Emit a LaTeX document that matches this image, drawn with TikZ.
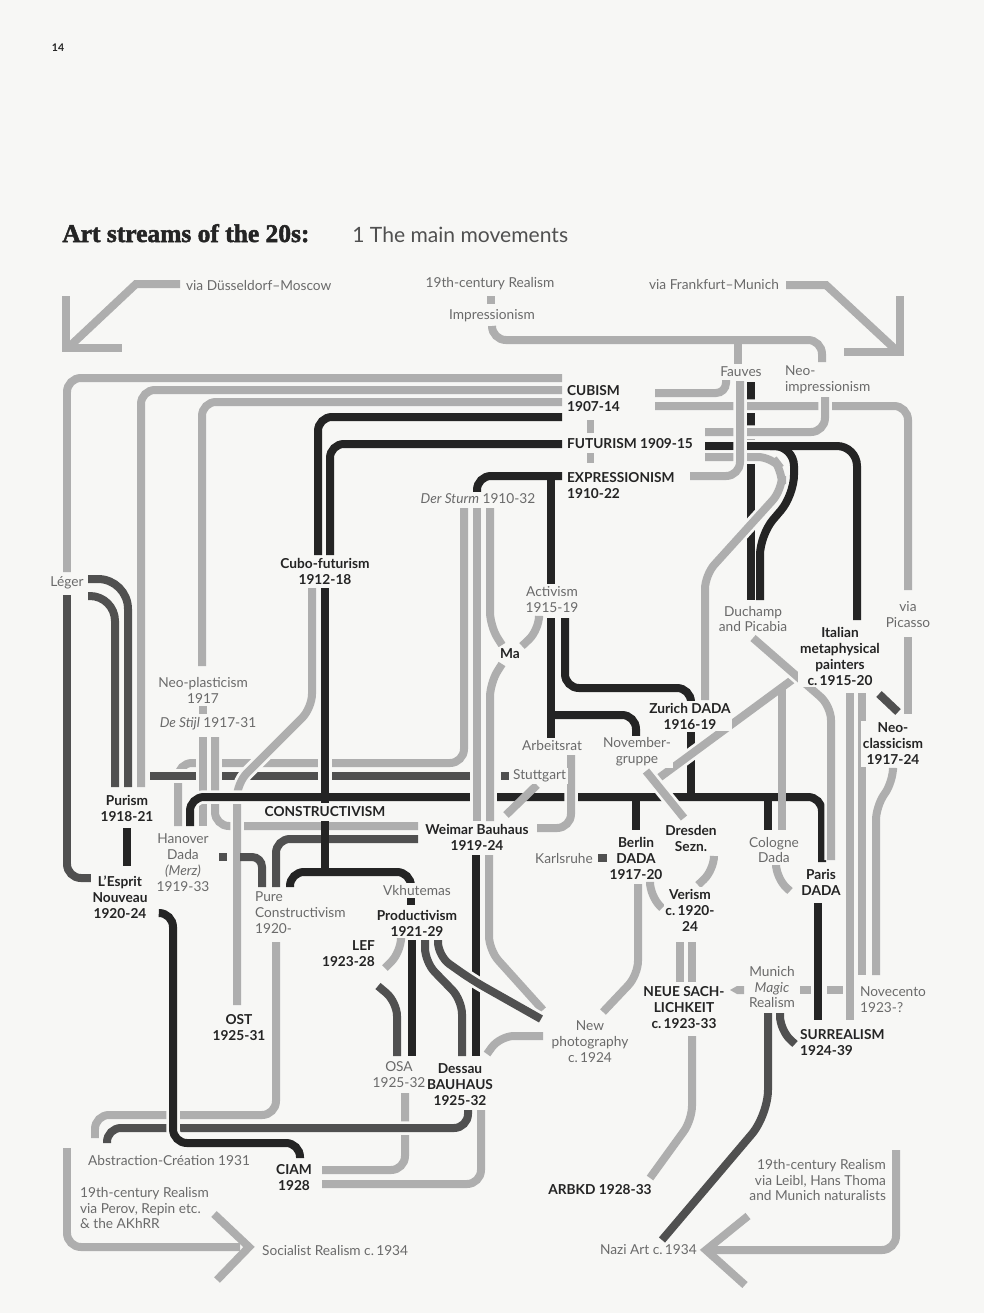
\documentclass[tikz,border=0pt]{standalone}
\usepackage{fontspec}
\setmainfont{Lato}
\newfontfamily\titlefont{Liberation Serif}[BoldFeatures={FakeBold=2}]
\definecolor{paper}{HTML}{F7F7F5}
\definecolor{lg}{HTML}{AEAEAE}
\definecolor{md}{HTML}{505050}
\definecolor{dk}{HTML}{242424}
\definecolor{tx}{HTML}{6A6A6A}
\newcommand{\lblsize}{\fontsize{7.8}{9.1}\selectfont}

\begin{document}
\begin{tikzpicture}[x=0.02cm, y=-0.02cm,
  lgline/.style={draw=lg, line width=0.16cm, rounded corners=0.28cm},
  mdline/.style={draw=md, line width=0.16cm, rounded corners=0.28cm},
  dkline/.style={draw=dk, line width=0.16cm, rounded corners=0.28cm},
  cased/.style={preaction={draw=paper, line width=0.27cm}},
  arrowhd/.style={draw=lg, line width=0.16cm, sharp corners, line join=miter},
  lbl/.style={font=\lblsize, text=tx, align=center, inner sep=1pt, fill=paper},
  blbl/.style={lbl, font=\lblsize\bfseries, text=dk}]

\fill[paper] (0,0) rectangle (984,1313);
\useasboundingbox (0,0) rectangle (984,1313);

% arrows in and out
\draw[lgline, sharp corners] (180,284) -- (136,284) -- (70,346);
\draw[arrowhd] (66,296) -- (66,348) -- (122,348);
\draw[lgline, sharp corners] (786,285) -- (826,285) -- (896,350);
\draw[arrowhd] (900,296) -- (900,352) -- (844,352);
\draw[lgline] (67,1148) -- (67,1247) -- (240,1247);
\draw[arrowhd] (214,1214) -- (249,1247) -- (217,1280);
\draw[lgline] (896,1150) -- (896,1250) -- (712,1250);
\draw[arrowhd] (748,1216) -- (706,1250) -- (745,1285);

% cubism and futurism westwards
\draw[lgline, cased] (562,378) -- (67,378) -- (67,572);
\draw[lgline, cased] (562,390) -- (141,390) -- (141,787);
\draw[lgline, cased] (562,402) -- (202,402) -- (202,666);
\draw[dkline, cased] (562,417) -- (318,417) -- (318,555);
\draw[dkline, cased] (562,444) -- (330,444) -- (330,555);

% impressionism, fauves
\draw[lgline, cased] (492,326) -- (492,340) -- (822,340) -- (822,362);
\draw[lgline] (738,344) -- (738,364);
\draw[dkline] (751,382) -- (751,600);
\draw[lgline, cased, rounded corners=0.2cm] (726,380) -- (726,393) -- (655,393);
\draw[lgline, cased] (655,406) -- (908,406) -- (908,590);
\draw[lgline, cased] (825,397) -- (825,432) -- (705,432);
\draw[dkline, cased, rounded corners=0.4cm] (705,446) -- (857,446) -- (857,620);
\draw[dkline, rounded corners=0.4cm] (770,446) -- (794,446) -- (794,495) -- (760,535) -- (760,600);
\draw[lgline, cased] (705,457) -- (772,457) -- (782,470) -- (782,490) -- (705,575) -- (705,700);
\draw[lgline, cased] (740,381) -- (740,476) -- (690,476);

% expressionism
\draw[dkline, cased] (562,476) -- (477,476) -- (477,494);
\draw[dkline] (551,476) -- (551,584);

% der sturm, purism
\draw[lgline, cased] (464,508) -- (464,763) -- (178,763) -- (178,826);
\draw[mdline, cased] (150,776) -- (496,776);
\draw[lgline, cased] (203,737) -- (203,826);
\draw[lgline, cased] (215,737) -- (215,826) -- (418,826);
\draw[lgline, cased] (312,588) -- (312,708) -- (237,783) -- (237,1005);

% dada
\draw[dkline, cased] (190,826) -- (190,797) -- (822,797) -- (822,862);
\draw[dkline] (691,732) -- (691,797);
\draw[dkline] (636,797) -- (636,830);
\draw[dkline] (768,797) -- (768,830);

\draw[lgline, cased] (477,508) -- (477,821);
\draw[lgline, cased] (490,508) -- (490,626) -- (502,645);
\draw[lgline, cased] (502,664) -- (490,683) -- (490,821);
\draw[lgline, cased] (539,618) -- (539,630) -- (522,646);
\draw[lgline, cased] (571,755) -- (571,828) -- (537,828);
\draw[lgline] (537,785) -- (506,815);

% activism
\draw[dkline, cased] (551,618) -- (551,738);
\draw[dkline] (551,715) -- (636,715) -- (636,738);
\draw[dkline, cased] (565,618) -- (565,688) -- (691,688) -- (691,701);

% leger and purism
\draw[mdline] (67,595) -- (67,878) -- (97,878);
\draw[mdline, rounded corners=0.6cm] (88,579) -- (128,579) -- (128,787);
\draw[mdline, rounded corners=0.5cm] (88,596) -- (115,596) -- (115,787);
\draw[dkline] (127,828) -- (127,866);

% constructivism
\draw[dkline, cased] (325,588) -- (325,785);
\draw[dkline] (325,780) -- (325,803);
\draw[mdline, rounded corners=0.2cm] (240,857) -- (262,857) -- (262,887);
\draw[mdline, cased] (276,887) -- (276,839) -- (418,839);
\draw[dkline, cased] (290,887) -- (290,872) -- (411,872) -- (411,884);
\draw[dkline] (325,821) -- (325,872);

% bauhaus and productivism
\draw[dkline, cased] (476,855) -- (476,1056);
\draw[lgline, cased] (489,855) -- (489,950) -- (543,1010);
\draw[lgline] (401,940) -- (401,952) -- (385,968);
\draw[dkline] (412,940) -- (412,1056);
\draw[mdline, cased] (425,940) -- (425,962) -- (462,1000) -- (462,1056);
\draw[mdline, cased] (438,940) -- (438,956) -- (472,980) -- (541,1019);
\draw[mdline] (378,986) -- (397,1002) -- (397,1056);
\draw[lgline] (543,1036) -- (500,1036) -- (487,1054);

% towards the thirties
\draw[lgline, cased] (405,1093) -- (405,1170) -- (322,1170);
\draw[lgline, cased] (276,942) -- (276,1115) -- (95,1115) -- (95,1138);
\draw[mdline, cased] (468,1110) -- (468,1128) -- (107,1128) -- (107,1143);
\draw[lgline, cased] (481,1110) -- (481,1184) -- (322,1184);
\draw[dkline, cased] (160,913) -- (173,913) -- (173,1143) -- (300,1143) -- (300,1158);

% metaphysical and paris
\draw[lgline, cased] (815,663) -- (652,783);
\draw[lgline] (782,688) -- (782,830);
\draw[lgline, cased] (646,771) -- (684,818);
\draw[lgline, cased] (753,638) -- (831,706) -- (831,860);
\draw[lgline, cased] (850,693) -- (850,1020);
\draw[lgline, cased] (862,693) -- (862,975);
\draw[lgline, cased] (893,770) -- (893,782) -- (876,806) -- (876,975);
\draw[lgline] (908,637) -- (908,714);
\draw[mdline] (879,694) -- (898,712);
\draw[dkline] (818,903) -- (818,1020);
\draw[lgline] (776,865) -- (776,878) -- (790,891);

% berlin, dresden, neue sachlichkeit
\draw[lgline, cased] (638,884) -- (638,975) -- (603,1012);
\draw[lgline] (650,884) -- (650,896) -- (662,908);
\draw[lgline] (714,856) -- (714,870) -- (698,885);
\draw[lgline] (680,942) -- (680,982);
\draw[lgline] (692,942) -- (692,982);
\draw[lgline] (692,1036) -- (692,1120) -- (650,1178);
\draw[mdline, rounded corners=0.5cm] (768,1013) -- (768,1115) -- (662,1240);
\draw[mdline] (780,1013) -- (780,1030) -- (795,1044);

% labels
\node[blbl, font=\fontsize{6}{7}\selectfont\bfseries] (pagenum) at (58,48) {14};
\node[anchor=base west, inner sep=0, text=dk, font=\titlefont\bfseries\fontsize{14.5}{16}\selectfont] (title) at (62,242) {Art streams of the 20s:};
\node[anchor=base west, inner sep=0, text=dk!80, font=\fontsize{12}{14}\selectfont] (subtitle) at (352,242) {1 The main movements};
\node[lbl, anchor=west] (dusmos) at (184,285) {via Düsseldorf–Moscow};
\node[lbl] (realism) at (490,284) {19th-century Realism};
\node[lbl] (impress) at (492,316) {Impressionism};
\node[lbl, anchor=west] (frankmun) at (647,284) {via Frankfurt–Munich};
\node[lbl] (fauves) at (741,372) {Fauves};
\node[lbl, anchor=west, align=left] (neoimp) at (783,380) {Neo-\\impressionism};
\node[blbl, anchor=west, align=left] (cubism) at (565,399) {CUBISM\\1907-14};
\node[blbl, anchor=west] (futurism) at (565,444) {FUTURISM 1909-15};
\node[blbl, anchor=west, align=left] (expr) at (565,486) {EXPRESSIONISM\\1910-22};
\node[lbl] (sturm) at (478,499) {\textit{Der Sturm} 1910-32};
\node[blbl] (cubofut) at (325,571) {Cubo-futurism\\1912-18};
\node[lbl] (leger) at (67,583) {Léger};
\node[lbl] (activism) at (552,600) {Activism\\1915-19};
\node[blbl] (ma) at (510,654) {Ma};
\node[lbl] (duchamp) at (753,619) {Duchamp\\and Picabia};
\node[lbl] (picasso) at (908,615) {via\\Picasso};
\node[blbl] (metaph) at (840,656) {Italian\\metaphysical\\painters\\c.\,1915-20};
\node[lbl] (neoplast) at (203,690) {Neo-plasticism\\1917};
\node[lbl] (destijl) at (208,724) {\textit{De Stijl} 1917-31};
\node[blbl] (zurich) at (690,716) {Zurich DADA\\1916-19};
\node[blbl] (neoclass) at (893,744) {Neo-\\classicism\\1917-24};
\node[lbl] (arbeitsrat) at (552,745) {Arbeitsrat};
\node[lbl] (novgruppe) at (637,752) {November-\\gruppe};
\node[lbl, anchor=west] (stuttgart) at (511,776) {Stuttgart};
\node[blbl] (purism) at (127,808) {Purism\\1918-21};
\node[blbl] (constr) at (325,812) {CONSTRUCTIVISM};
\node[lbl] (hanover) at (183,863) {Hanover\\Dada\\\textit{(Merz)}\\1919-33};
\node[blbl] (weimar) at (477,837) {Weimar Bauhaus\\1919-24};
\node[blbl] (berlin) at (636,858) {Berlin\\DADA\\1917-20};
\node[lbl] (karlsruhe) at (564,858) {Karlsruhe};
\node[blbl] (dresden) at (691,838) {Dresden\\Sezn.};
\node[lbl] (cologne) at (774,850) {Cologne\\Dada};
\node[blbl] (paris) at (821,882) {Paris\\DADA};
\node[blbl] (esprit) at (120,897) {L'Esprit\\Nouveau\\1920-24};
\node[lbl, anchor=west, align=left] (purecon) at (253,913) {Pure\\Constructivism\\1920-};
\node[lbl] (vkhut) at (417,890) {Vkhutemas};
\node[blbl] (product) at (417,923) {Productivism\\1921-29};
\node[blbl] (verism) at (690,910) {Verism\\c.\,1920-\\24};
\node[blbl, anchor=east, align=right] (lef) at (377,954) {LEF\\1923-28};
\node[lbl] (munich) at (772,987) {Munich\\\textit{Magic}\\Realism};
\node[blbl] (neuesach) at (684,1008) {NEUE SACH-\\LICHKEIT\\c.\,1923-33};
\node[lbl, anchor=west, align=left] (novecento) at (858,1000) {Novecento\\1923-?};
\node[blbl] (ost) at (239,1028) {OST\\1925-31};
\node[lbl] (newphoto) at (590,1042) {New\\photography\\c.\,1924};
\node[blbl, anchor=west, align=left] (surreal) at (798,1043) {SURREALISM\\1924-39};
\node[lbl] (osa) at (399,1075) {OSA\\1925-32};
\node[blbl] (dessau) at (460,1085) {Dessau\\BAUHAUS\\1925-32};
\node[lbl, anchor=west] (abstr) at (86,1160) {Abstraction-Création 1931};
\node[blbl] (ciam) at (294,1178) {CIAM\\1928};
\node[lbl, anchor=west, align=left] (rusreal) at (78,1208) {19th-century Realism\\via Perov, Repin etc.\\\& the AKhRR};
\node[blbl] (arbkd) at (600,1190) {ARBKD 1928-33};
\node[lbl, anchor=east, align=right] (gerreal) at (888,1180) {19th-century Realism\\via Leibl, Hans Thoma\\and Munich naturalists};
\node[lbl, anchor=west] (socreal) at (260,1250) {Socialist Realism c.\,1934};
\node[lbl, anchor=west] (nazi) at (598,1250) {Nazi Art c.\,1934};

% small squares
\fill[lg] (487,296) rectangle (495,304);
\fill[lg] (587,420) rectangle (594,433);
\fill[lg] (587,453) rectangle (594,463);
\fill[lg] (199,706) rectangle (207,714);
\fill[md] (501,772) rectangle (509,780);
\fill[md] (219,853) rectangle (227,861);
\fill[md] (598,854) rectangle (607,862);
\fill[dk] (407,898) rectangle (415,905);
\fill[lg] (730,990) -- (737,986) -- (744,986) -- (744,994) -- (737,994) -- cycle;
\fill[lg] (800,986) rectangle (811,994);
\fill[lg] (827,986) rectangle (843,994);
\end{tikzpicture}
\end{document}
